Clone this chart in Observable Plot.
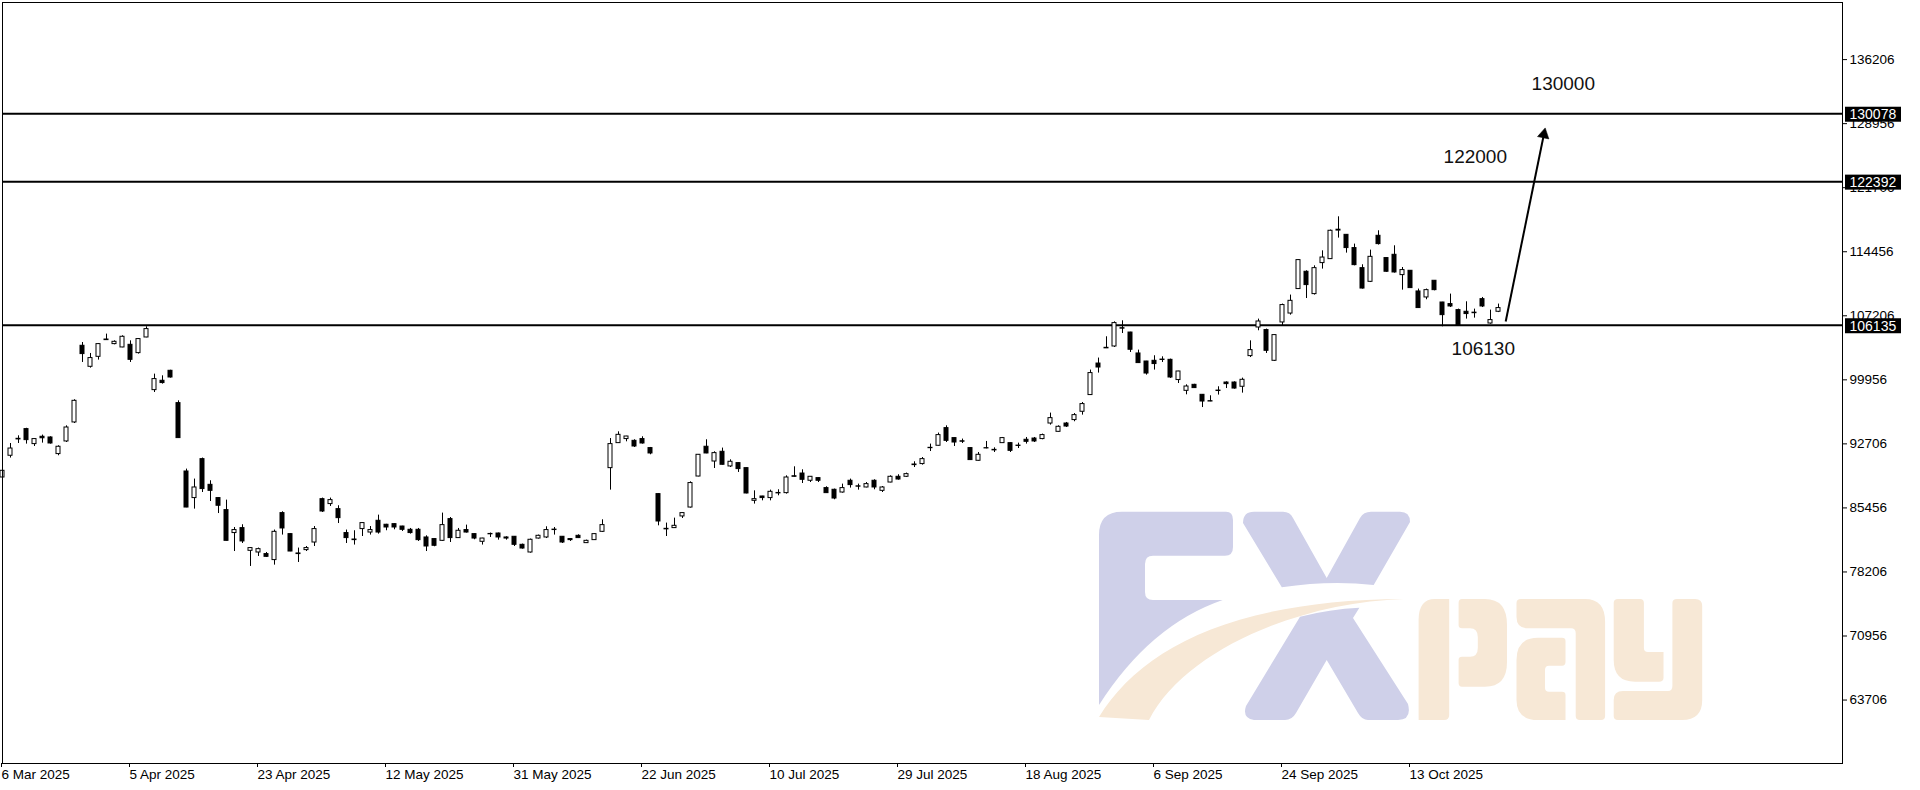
<!DOCTYPE html>
<html><head><meta charset="utf-8">
<script src="https://cdn.jsdelivr.net/npm/d3@7"></script>
<script src="https://cdn.jsdelivr.net/npm/@observablehq/plot@0.6"></script>
<style>
html,body{margin:0;padding:0;background:#fff;}
#chart{width:1920px;height:790px;overflow:hidden;}
</style></head><body><div id="chart"></div>
<script>
// Daily candles, bar index 0..187
const open  = [88900,91360,93280,94380,92680,93510,93430,91550,92980,95130,103810,101430,102560,104520,104000,103620,103920,102980,104750,98790,99850,100980,97320,89580,86570,90980,88070,86570,85210,82610,83170,80600,80410,80230,79550,84870,82490,80300,80680,81540,86450,85890,85320,82610,81880,83060,82670,84000,83550,83620,83350,82980,82980,82110,81930,81730,84190,82040,82950,82490,81620,82470,82560,82110,82190,81280,80410,81990,82110,83000,82190,81930,82300,81470,81810,82750,89960,92790,93250,93050,93250,92230,87020,83030,83170,84490,85500,89010,92380,90710,91810,90150,90530,89960,86260,86750,86570,87100,87130,89040,89350,88530,88830,87700,87510,87200,88530,87900,87770,88530,87390,88330,88980,88980,90300,90420,92220,92490,94490,93360,93000,92230,90790,92220,92030,92790,92790,92510,93170,93310,93250,95010,94070,95010,95400,96340,98230,101800,103580,103730,105800,105310,102940,102030,102110,102250,102220,99930,98710,99390,98260,97540,98740,99650,99650,99170,102640,105880,105590,102110,106450,107460,110230,112190,109660,113170,113620,116850,116370,114870,112600,111050,116260,113740,114110,111810,112300,109960,109280,111170,108710,108530,107850,107660,107560,109090,106330,107660];
const high  = [89880,92750,93620,94470,93280,93700,93510,92490,94750,97700,104180,102940,104070,105130,104370,104940,104370,104630,105960,100600,100410,101040,97580,89850,88720,91100,88530,86600,86340,83240,83550,80950,80910,80410,82950,85020,82530,80910,81090,83350,86570,86570,85700,82950,82870,83770,83350,84640,83600,83660,83380,83130,83130,82300,81950,84870,84370,83130,83510,82520,82020,82610,82610,82190,82220,81360,81930,82380,83320,83240,82220,81990,82410,81810,82530,84110,93310,94070,93560,93170,93510,92300,87050,83740,84300,84900,88410,91500,93170,91810,92230,90900,90560,89990,87390,86770,87470,87510,89090,90110,89770,89000,88850,87850,87590,88150,88720,88150,88330,88640,87880,89090,89210,89400,90680,91160,92680,93930,94750,93380,93250,92260,91730,92980,92260,93430,92860,92790,93430,93430,93810,96190,94750,95130,96140,97390,101060,102420,104830,106520,106640,105340,103320,102050,102680,102560,102300,100920,99390,99450,98280,98150,99170,99730,99730,100150,104370,106830,105700,105040,108530,109550,113530,112300,112860,114560,116910,118410,116400,115320,112980,114640,116830,113770,115130,112670,112320,110230,110230,111190,108730,109660,107960,108790,107960,109280,107850,108530];
const low   = [88750,91100,92750,92680,92410,92790,92680,91360,92860,95010,101920,101280,102190,104430,103920,103590,101920,102870,104720,98520,99470,100150,93330,85480,85320,87200,86180,84820,81710,80520,81430,78830,79960,79850,78980,82380,80500,79280,80520,81090,84940,85620,83690,81430,81250,82220,82380,82490,82870,82980,82790,82490,81660,80520,81060,81660,81540,82020,82610,81850,81250,82110,81810,81810,81090,80790,80340,81930,81990,82380,81430,81660,81990,81430,81790,82670,87470,92770,92940,92300,92680,91470,83430,82220,83150,84260,85440,88980,91590,89920,90300,90030,89470,87050,85890,86260,86260,86830,87020,88950,88220,88330,88330,87110,86380,87130,87700,87470,87730,87510,87200,88300,88600,88900,90030,90300,91840,92460,92860,92410,92750,90840,90750,92150,91730,92770,91730,92180,92680,92860,93170,94830,94050,94560,95210,95960,98200,100720,103500,103620,105200,103050,101820,100490,101060,101920,100110,99540,98260,99000,96820,97480,98230,98970,98900,98450,102480,105510,102940,102030,106070,107280,110200,109160,109550,112490,113600,116000,114300,112860,110230,110970,115210,112130,112040,110110,110310,108030,109020,110030,105960,108140,106050,106830,106940,108140,106260,107570];
const close = [89660,92180,93210,93130,93250,93340,92750,92380,94560,97580,102870,102420,104000,104450,104260,104830,102220,104570,105700,100040,99590,100220,93360,85500,87770,87590,87390,85700,81730,82950,81660,80910,80790,79920,82750,83130,80520,80230,80910,83060,85050,86340,84300,82040,81810,83740,82950,82670,83240,83240,82980,82610,81810,81090,81170,83510,82040,82870,82670,81990,81990,82510,82110,81990,81280,80860,81850,82300,82950,82950,81540,81810,82040,81730,82490,83510,92680,93730,93540,92410,92750,91620,83920,83090,83430,84870,88270,91470,91620,91660,90340,90680,89850,87090,86450,86570,87280,87150,88900,88980,88640,88980,88530,87130,86520,87700,88040,87860,88150,87770,87770,88980,88670,89280,90370,90980,92260,93700,93050,92860,92950,90870,91470,92190,91970,93360,91920,92470,92940,92980,93700,95620,94640,94670,95960,97210,100720,101350,103520,106380,105750,103360,101850,100670,101740,102200,100220,100900,99200,99020,97500,97500,98690,99470,98970,99960,103320,106560,103240,105020,108420,108900,113510,110680,112600,113800,116830,116950,114870,112940,110290,113880,115320,112190,112110,112380,110340,108080,110110,110110,107280,108260,106070,107400,107500,108260,106720,108080];

// Axis ticks
const xTickIdx    = [0,16,32,48,64,80,96,112,128,144,160,176];
const xTickLabels = ["6 Mar 2025","5 Apr 2025","23 Apr 2025","12 May 2025","31 May 2025","22 Jun 2025","10 Jul 2025","29 Jul 2025","18 Aug 2025","6 Sep 2025","24 Sep 2025","13 Oct 2025"];
const yTicks      = [63706,70956,78206,85456,92706,99956,107206,114456,121706,128956,136206];

// Horizontal levels and annotations
const levels    = [130078,122392,106135];
const notes     = ["130000","122000","106130"];
const noteBar   = [195.1,184.1,185.1];
const notePrice = [133420,125200,103500];
const arrowFrom = [187.9,106560];
const arrowTo   = [192.67,127730];

const candles = open.map((o,i)=>({i, o, h:high[i], l:low[i], c:close[i], up: close[i] >= o}));
const fmt = d3.format("d");

const plot = Plot.plot({
  width: 1920, height: 790,
  marginLeft: 2, marginRight: 78, marginTop: 2, marginBottom: 27,
  style: {fontFamily: "'Liberation Sans', Arial, sans-serif", fontSize: "13.5px", background: "white", color: "black", overflow: "visible"},
  x: {type: "linear", domain: [0, 230], axis: null},
  y: {domain: [56524, 142670], axis: null},
  marks: [
    Plot.ruleY(levels, {stroke: "black", strokeWidth: 2}),
    Plot.ruleX(candles, {x: "i", y1: "l", y2: "h", stroke: "black", strokeWidth: 1}),
    Plot.rect(candles, {x1: d => d.i - 0.25, x2: d => d.i + 0.25, y1: "o", y2: "c",
      fill: d => d.up ? "white" : "black", stroke: "black", strokeWidth: 1}),
    Plot.link([0], {x1: () => arrowFrom[0], y1: () => arrowFrom[1], x2: () => arrowTo[0], y2: () => arrowTo[1], stroke: "black", strokeWidth: 2}),
    Plot.dot([0], {x: () => arrowTo[0], y: () => arrowTo[1], symbol: "triangle", r: 4.3, fill: "black", stroke: "black", strokeWidth: 0.5, rotate: 11.5}),
    Plot.text(notes, {x: (d,k) => noteBar[k], y: (d,k) => notePrice[k], text: d => d, fontSize: 19, fill: "#111", fontFamily: "'Liberation Sans', Arial, sans-serif"}),
    Plot.frame({stroke: "black", strokeWidth: 1}),
    Plot.axisX(xTickIdx, {anchor: "bottom", tickSize: 4, tickPadding: 2, textAnchor: "start", dx: -1,
      tickFormat: d => xTickLabels[xTickIdx.indexOf(d)], label: null}),
    Plot.axisY(yTicks, {anchor: "right", tickSize: 4, tickPadding: 3, tickFormat: fmt, label: null})
  ]
});

document.getElementById("chart").appendChild(plot);

// Watermark logo (behind marks)
const svg = d3.select(plot);
const logo = svg.insert("g", "g").attr("class", "watermark");
const lav = "#cfd0e9", bei = "#f7e8d6";
[
  [lav, "M1099,705 L1099,535 Q1099,511.7 1122,511.7 L1226,511.7 Q1233,511.7 1233,520 L1233,547 Q1233,555.7 1225,555.7 L1153,555.7 Q1145,555.7 1145,564 L1145,592 Q1145,600 1153,600 L1222.7,600 Q1150,625 1099,705 Z"],
  [lav, "M1243,523 Q1243,511.7 1254,511.7 L1283,511.7 Q1290,511.7 1293,518 L1326.7,578 L1360,518 Q1363.5,511.7 1371,511.7 L1400,511.7 Q1410,511.7 1410,522 L1373.7,585 Q1330,580 1281.8,587.3 Z"],
  [lav, "M1300,616.7 Q1330,609 1359.4,607.7 L1353,618 L1408,704 Q1412,720 1398,720 L1368,720 Q1362,720 1358,713 L1326.7,660 L1296,713 Q1292,720 1285,720 L1254,720 Q1242,718 1246,706 Z"],
  [bei, "M1099,717 C1140,650 1230,600 1404,599 C1300,602 1185,650 1149,720 Z"],
  [bei, "M1418.6,720 L1418.6,620 Q1418.6,599 1435,599 L1449.2,599 L1449.2,715 Q1449.2,720 1444,720 Z"],
  [bei, "M1458.6,603 Q1458.6,599 1462,599 L1485,599 Q1507,599 1507,625 L1507,662 Q1507,686.7 1485,686.7 L1462,686.7 Q1458.6,686.7 1458.6,683 L1458.6,660 Q1458.6,656.7 1462,656.7 L1470,656.7 Q1477.8,656.7 1477.8,648 L1477.8,637 Q1477.8,628.3 1470,628.3 L1462,628.3 Q1458.6,628.3 1458.6,625 Z"],
  [bei, "M1516.5,603 Q1516.5,599 1521,599 L1585,599 Q1605.1,599 1605.1,622 L1605.1,716 Q1605.1,720 1601,720 L1580,720 Q1575.7,720 1575.7,716 L1575.7,633 Q1575.7,628.3 1571,628.3 L1528,628.3 Q1516.5,628.3 1516.5,617 Z"],
  [bei, "M1516.5,660 Q1516.5,637.7 1538,637.7 L1562,637.7 Q1565.5,637.7 1565.5,641 L1565.5,662 Q1565.5,665.7 1562,665.7 L1549,665.7 Q1545,665.7 1545,670 L1545,688 Q1545,691.7 1549,691.7 L1562,691.7 Q1565.5,691.7 1565.5,695 L1565.5,720 L1538,720 Q1516.5,720 1516.5,700 Z"],
  [bei, "M1613.7,603 Q1613.7,599 1618,599 L1640,599 Q1643.9,599 1643.9,603 L1643.9,648 Q1643.9,652 1648,652 L1663.5,652 L1663.5,678 Q1663.5,681.7 1659,681.7 L1635,681.7 Q1613.7,681.7 1613.7,660 Z"],
  [bei, "M1672.4,603 Q1672.4,599 1677,599 L1695,599 Q1702.2,599 1702.2,606 L1702.2,700 Q1702.2,720 1682,720 L1618,720 Q1613.7,720 1613.7,716 L1613.7,700 Q1613.7,691 1623,691 L1668,691 Q1672.4,691 1672.4,686 Z"]
].forEach(([c, d]) => logo.append("path").attr("d", d).attr("fill", c));

// Price tags on the right scale
const ys = plot.scale("y");
const xr = 1920 - 78;
const tags = svg.append("g").attr("text-anchor", "start");
levels.forEach(v => {
  const y = ys.apply(v);
  tags.append("rect").attr("x", xr + 3).attr("y", y - 6.5).attr("width", 56).attr("height", 15).attr("fill", "black");
  tags.append("text").attr("x", xr + 7.5).attr("y", y + 1).attr("dy", "0.36em").attr("fill", "white")
    .attr("text-anchor", "start")
    .attr("font-size", 14).attr("font-family", "'Liberation Sans', Arial, sans-serif").text(fmt(v));
});
</script>
</body></html>
